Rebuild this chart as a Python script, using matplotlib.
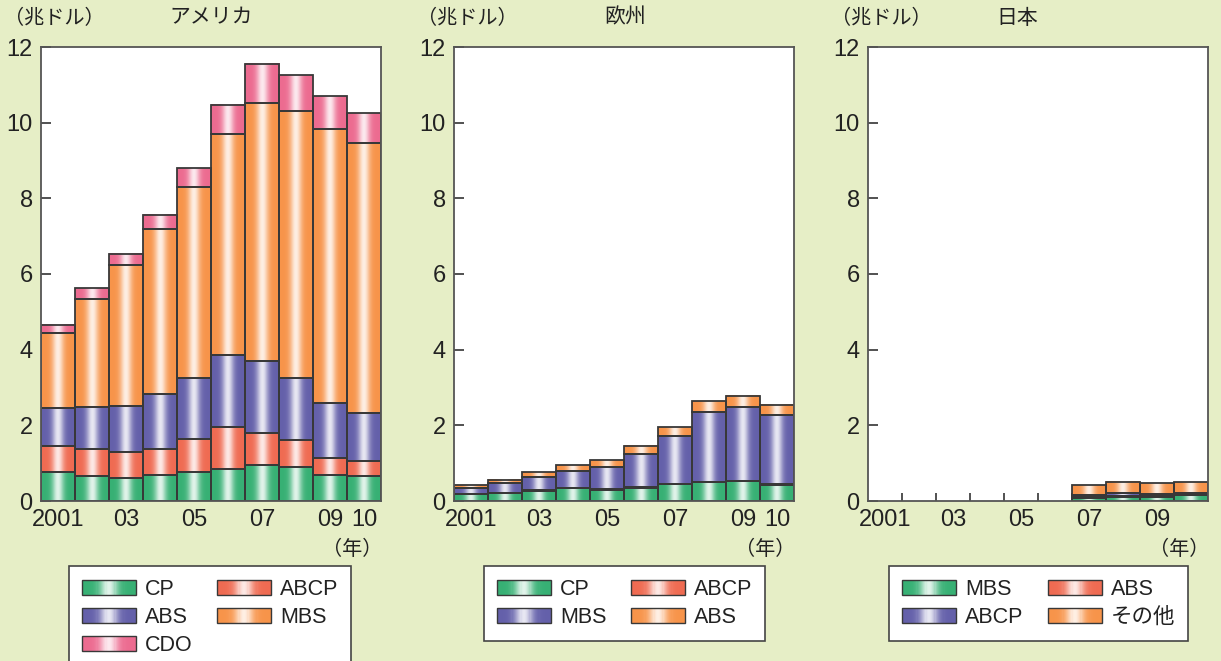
import numpy as np
import matplotlib
matplotlib.use("Agg")
import matplotlib.pyplot as plt
import matplotlib.colors as mcolors
from matplotlib.patches import Patch, Rectangle
from matplotlib.legend_handler import HandlerBase

plt.rcParams['font.family'] = ['Liberation Sans', 'Noto Sans CJK JP', 'DejaVu Sans']

years = list(range(2001, 2011))
tick_pos = [0, 2, 4, 6, 8, 9]
tick_lab = ['2001', '03', '05', '07', '09', '10']

# アメリカ (兆ドル)
us_cp = [0.76, 0.67, 0.60, 0.69, 0.76, 0.84, 0.94, 0.89, 0.68, 0.66]
us_abcp = [0.70, 0.70, 0.69, 0.69, 0.88, 1.12, 0.85, 0.71, 0.45, 0.40]
us_abs = [1.01, 1.12, 1.21, 1.45, 1.61, 1.89, 1.91, 1.65, 1.46, 1.26]
us_mbs = [1.97, 2.86, 3.73, 4.36, 5.04, 5.84, 6.81, 7.07, 7.25, 7.15]
us_cdo = [0.22, 0.27, 0.30, 0.38, 0.50, 0.79, 1.04, 0.95, 0.86, 0.79]

# 欧州
eu_cp = [0.18, 0.21, 0.27, 0.34, 0.29, 0.34, 0.45, 0.49, 0.52, 0.43]
eu_abcp = [0.01, 0.01, 0.01, 0.01, 0.02, 0.03, 0.01, 0.01, 0.01, 0.01]
eu_mbs = [0.16, 0.25, 0.35, 0.44, 0.59, 0.86, 1.26, 1.85, 1.95, 1.84]
eu_abs = [0.06, 0.09, 0.13, 0.15, 0.18, 0.23, 0.23, 0.28, 0.30, 0.27]

# 日本
jp_mbs = [0, 0, 0, 0, 0, 0, 0.09, 0.11, 0.11, 0.15]
jp_abs = [0, 0, 0, 0, 0, 0, 0.02, 0.03, 0.02, 0.01]
jp_abcp = [0, 0, 0, 0, 0, 0, 0.04, 0.06, 0.06, 0.04]
jp_other = [0, 0, 0, 0, 0, 0, 0.26, 0.31, 0.28, 0.29]

GREEN = '#37b074'
RED = '#ef6b52'
BLUE = '#6460aa'
ORANGE = '#f7944a'
PINK = '#ec6b90'
EDGE = '#383838'
BG = '#e6eec6'


def gradient(color, n=64):
    base = np.array(mcolors.to_rgb(color))
    t = np.linspace(-1, 1, n)
    w = 0.85 * np.exp(-(t / 0.34) ** 2)
    return base[None, :] * (1 - w[:, None]) + w[:, None]


class GradHandler(HandlerBase):
    def create_artists(self, legend, orig_handle, xdescent, ydescent,
                       width, height, fontsize, trans):
        rgb = gradient(orig_handle.get_facecolor(), 48)
        n = len(rgb)
        arts = []
        for k in range(n):
            arts.append(Rectangle((-xdescent + width * k / n, -ydescent),
                                  width / n * 1.6, height, facecolor=rgb[k],
                                  edgecolor='none', antialiased=False,
                                  transform=trans))
        arts.append(Rectangle((-xdescent, -ydescent), width, height, fill=False,
                              edgecolor=EDGE, lw=1.0, transform=trans))
        return arts


def stacked(ax, series, colors):
    x = np.arange(len(years))
    bottom = np.zeros(len(years))
    for vals, c in zip(series, colors):
        vals = np.array(vals, dtype=float)
        img = gradient(c)[None, :, :]
        for i in x:
            if vals[i] <= 0:
                continue
            ax.imshow(img, extent=(i - 0.5, i + 0.5, bottom[i], bottom[i] + vals[i]),
                      aspect='auto', interpolation='bilinear', zorder=2)
        ax.bar(x, np.where(vals > 0, vals, 0), width=1.0, bottom=bottom,
               facecolor='none', edgecolor=np.where(vals > 0, EDGE, 'none'),
               lw=1.3, zorder=3)
        bottom += vals


fig = plt.figure(figsize=(12.21, 6.61), dpi=100, facecolor=BG)
W, H = 1221, 661
lefts = [41, 454, 868]
axes = [fig.add_axes([l / W, 1 - 501 / H, 340 / W, 454 / H]) for l in lefts]

stacked(axes[0], [us_cp, us_abcp, us_abs, us_mbs, us_cdo], [GREEN, RED, BLUE, ORANGE, PINK])
stacked(axes[1], [eu_cp, eu_abcp, eu_mbs, eu_abs], [GREEN, RED, BLUE, ORANGE])
stacked(axes[2], [jp_mbs, jp_abs, jp_abcp, jp_other], [GREEN, RED, BLUE, ORANGE])

for k, ax in enumerate(axes):
    ax.set_facecolor('white')
    ax.set_xlim(-0.5, 9.5)
    ax.set_ylim(0, 12)
    ax.set_yticks(range(0, 13, 2))
    ax.set_yticklabels([str(v) for v in range(0, 13, 2)])
    if k < 2:
        ax.set_xticks(tick_pos)
        ax.set_xticklabels(tick_lab)
    else:
        ax.set_xticks(tick_pos[:-1])
        ax.set_xticklabels(tick_lab[:-1])
    ax.set_xticks(np.arange(0.5, 9.5, 1.0), minor=True)
    ax.tick_params(axis='x', which='major', length=0, pad=6, labelsize=17, colors='#222222')
    ax.tick_params(axis='x', which='minor', direction='in', length=6, width=1.2, color='#333333')
    ax.tick_params(axis='y', direction='in', length=7, width=1.2, pad=6,
                   labelsize=17, colors='#333333', labelcolor='#222222')
    for s in ax.spines.values():
        s.set_color('#555555')
        s.set_linewidth(1.3)
        s.set_zorder(4)

titles = ['アメリカ', '欧州', '日本']
title_x = [211, 625, 1017]
for k, ax in enumerate(axes):
    l = lefts[k]
    fig.text((l - 37) / W, 1 - 18 / H, '（兆ドル）', ha='left', va='center',
             fontsize=14.5, color='#222222')
    fig.text(title_x[k] / W, 1 - 18 / H, titles[k], ha='center', va='center',
             fontsize=15, color='#222222')
    fig.text((l + 341) / W, 1 - 549 / H, '（年）', ha='right', va='center',
             fontsize=14.5, color='#222222')

leg_kw = dict(loc='upper left', ncol=2, fontsize=15.5, frameon=True, fancybox=False,
              edgecolor='#444444', facecolor='white', framealpha=1,
              handlelength=2.5, handleheight=0.7, handletextpad=0.42,
              columnspacing=1.15, labelspacing=0.32, borderpad=0.6,
              borderaxespad=0, handler_map={Patch: GradHandler()})

h_us = [Patch(facecolor=c, label=t) for c, t in
        [(GREEN, 'CP'), (BLUE, 'ABS'), (PINK, 'CDO'), (RED, 'ABCP'), (ORANGE, 'MBS')]]
h_eu = [Patch(facecolor=c, label=t) for c, t in
        [(GREEN, 'CP'), (BLUE, 'MBS'), (RED, 'ABCP'), (ORANGE, 'ABS')]]
h_jp = [Patch(facecolor=c, label=t) for c, t in
        [(GREEN, 'MBS'), (BLUE, 'ABCP'), (RED, 'ABS'), (ORANGE, 'その他')]]

for hs, x0 in zip([h_us, h_eu, h_jp], [69, 484, 889]):
    lg = fig.legend(handles=hs, bbox_to_anchor=(x0 / W, 1 - 566 / H), **leg_kw)
    lg.get_frame().set_linewidth(1.2)
    for t in lg.get_texts():
        t.set_color('#222222')

fig.savefig('out.png', dpi=100, facecolor=BG)
